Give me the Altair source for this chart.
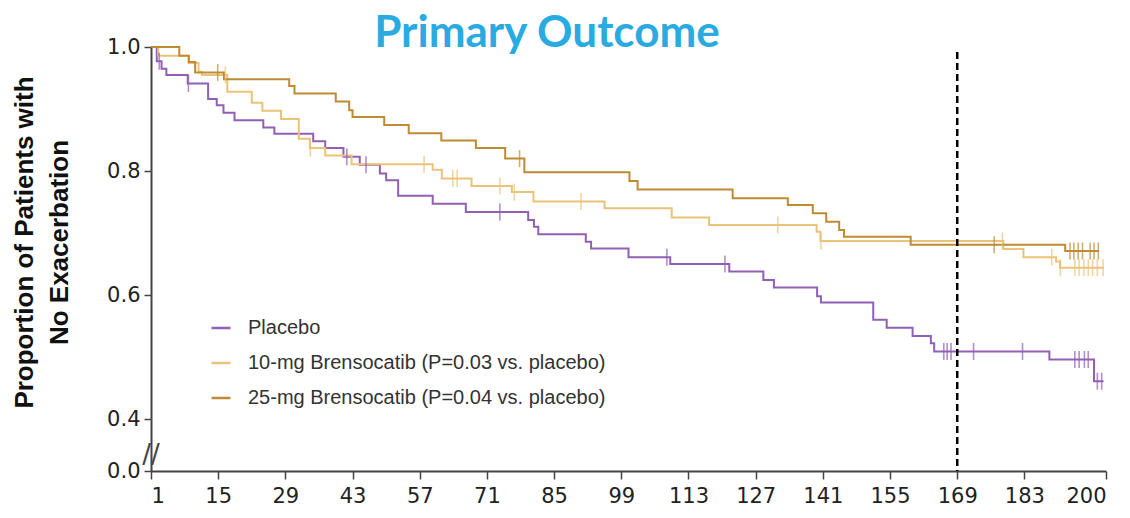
import altair as alt
import pandas as pd

# ---------------- data ----------------
SERIES = [
    "Placebo",
    "10-mg Brensocatib (P=0.03 vs. placebo)",
    "25-mg Brensocatib (P=0.04 vs. placebo)",
]
COLORS = ["#9160B4", "#EBC27A", "#BE8B34"]
TITLE = "Primary Outcome"

placebo_days = [1, 2.2, 3.2, 4.2, 8.65, 12.9, 14.7, 16.1, 18.4, 24.4, 26.7, 34.8, 37.3,
                41.1, 44.5, 48.7, 50.0, 52.5, 59.7, 66.6, 79.6, 80.8, 81.7, 91.6, 92.7,
                100.5, 109.2, 121.5, 128.6, 130.8, 139.8, 140.6, 151.5, 154.3, 159.7,
                163.5, 164.2, 188.2, 197.5, 199.5]
placebo_surv = [1.0, 0.977, 0.965, 0.955, 0.941, 0.916, 0.906, 0.894, 0.882, 0.870, 0.860,
                0.848, 0.837, 0.823, 0.810, 0.796, 0.785, 0.760, 0.747, 0.734, 0.721, 0.710,
                0.698, 0.686, 0.675, 0.661, 0.650, 0.638, 0.624, 0.612, 0.598, 0.588, 0.560,
                0.547, 0.534, 0.522, 0.509, 0.496, 0.461, 0.461]
placebo_censor = [2.7, 8.8, 41.8, 45.8, 73.7, 108.5, 120.6, 166.2, 166.9, 167.7, 172.4,
                  182.6, 193.5, 194.4, 195.5, 196.3, 198.2, 199.1]

mg10_days = [1, 2.5, 8.8, 10.9, 11.6, 16.9, 22.0, 24.2, 28.1, 31.8, 34.1, 37.3, 42.8,
             59.7, 61.6, 67.8, 76.2, 80.7, 95.5, 109.5, 117.3, 139.7, 140.5, 178.6,
             182.8, 189.6, 190.4, 199.5]
mg10_surv = [1.0, 0.986, 0.974, 0.960, 0.955, 0.928, 0.910, 0.897, 0.884, 0.852, 0.837,
             0.825, 0.811, 0.802, 0.788, 0.776, 0.766, 0.751, 0.740, 0.725, 0.713, 0.702,
             0.687, 0.674, 0.661, 0.654, 0.644, 0.644]
mg10_censor = [16.5, 34.2, 57.9, 63.9, 64.8, 73.7, 76.7, 90.6, 131.6, 140.6, 178.4, 188.7,
               190.5, 193.5, 194.4, 195.4, 196.3, 197.2, 198.2, 199.4]

mg25_days = [1, 6.9, 8.9, 10.2, 16.2, 29.8, 30.9, 39.5, 42.3, 43.0, 49.6, 54.7, 61.5,
             68.7, 74.8, 78.8, 100.7, 102.4, 122.2, 133.7, 138.9, 141.7, 144.4, 145.4,
             159.3, 191.5, 198.5]
mg25_surv = [1.0, 0.986, 0.976, 0.959, 0.948, 0.937, 0.925, 0.912, 0.898, 0.887, 0.874,
             0.861, 0.849, 0.837, 0.820, 0.798, 0.784, 0.770, 0.756, 0.745, 0.732, 0.718,
             0.705, 0.694, 0.681, 0.671, 0.671]
mg25_censor = [14.9, 77.8, 176.7, 192.5, 193.3, 194.2, 195.1, 196.7, 197.5, 198.4]

X_TICKS = [1, 15, 29, 43, 57, 71, 85, 99, 113, 127, 141, 155, 169, 183, 200]
Y_TICKS = [0.4, 0.6, 0.8, 1.0]
LANDMARK_DAY = 169
Y_BREAK = 0.4 - 0.2 * 52 / 124   # position drawn as "0.0" below the axis break

# ---------------- tables ----------------
def surv_at(days, surv, t):
    val = surv[0]
    for d, s in zip(days, surv):
        if d <= t:
            val = s
    return val

curves = [(placebo_days, placebo_surv, placebo_censor),
          (mg10_days, mg10_surv, mg10_censor),
          (mg25_days, mg25_surv, mg25_censor)]

line_rows, tick_rows = [], []
for name, (days, surv, cens) in zip(SERIES, curves):
    for d, s in zip(days, surv):
        line_rows.append({"series": name, "day": d, "surv": s})
    for c in cens:
        tick_rows.append({"series": name, "day": c, "surv": surv_at(days, surv, c)})
lines_df = pd.DataFrame(line_rows)
ticks_df = pd.DataFrame(tick_rows)

# ---------------- chart ----------------
x_scale = alt.Scale(domain=[1, 200], nice=False, zero=False)
y_scale = alt.Scale(domain=[Y_BREAK, 1.0], nice=False, zero=False)
color_scale = alt.Scale(domain=SERIES, range=COLORS)

x_axis = alt.Axis(values=X_TICKS, format="d", title=None, grid=False, tickSize=8,
                  labelPadding=6)
y_axis = alt.Axis(values=[Y_BREAK] + Y_TICKS, grid=False, tickSize=7, labelPadding=4,
                  labelExpr="datum.value < 0.35 ? '0.0' : format(datum.value, '.1f')",
                  title=["Proportion of Patients with", "No Exacerbation"],
                  titleFont="Liberation Sans", titleFontWeight="bold", titleFontSize=26,
                  titleColor="#111111", titleX=-127, titleY=195, titleAngle=-90,
                  titleAlign="center", titleBaseline="middle", titleLineHeight=35)

base_lines = alt.Chart(lines_df).mark_line(interpolate="step-after", strokeWidth=2).encode(
    x=alt.X("day:Q", scale=x_scale, axis=x_axis),
    y=alt.Y("surv:Q", scale=y_scale, axis=y_axis),
    color=alt.Color("series:N", scale=color_scale, sort=SERIES,
                    legend=alt.Legend(orient="none", legendX=59, legendY=270, title=None,
                                      symbolType="stroke", symbolSize=361,
                                      symbolStrokeWidth=2.5, labelFont="Liberation Sans",
                                      labelFontSize=20, labelColor="#333333",
                                      labelLimit=0, rowPadding=14, labelOffset=16,
                                      padding=0)),
)

ticks = alt.Chart(ticks_df).mark_tick(orient="vertical", size=17, thickness=1.6).encode(
    x=alt.X("day:Q", scale=x_scale),
    y=alt.Y("surv:Q", scale=y_scale),
    color=alt.Color("series:N", scale=color_scale, legend=None),
)

landmark = alt.Chart(pd.DataFrame({"day": [LANDMARK_DAY]})).mark_rule(
    color="black", strokeWidth=2.5, strokeDash=[7, 4]
).encode(x=alt.X("day:Q", scale=x_scale), y=alt.datum(0.992), y2=alt.datum(Y_BREAK))

brk = alt.Chart(pd.DataFrame({"t": ["//"]})).mark_text(
    font="DejaVu Sans", fontSize=26, color="#444444"
).encode(x=alt.datum(1), y=alt.datum(0.342), text="t:N")

title = alt.Chart(pd.DataFrame({"t": [TITLE]})).mark_text(
    font="Lato", fontSize=44, fontWeight="bold", color="#29ABE2",
    align="center", baseline="alphabetic"
).encode(x=alt.value(396), y=alt.value(0), text="t:N")

chart = alt.layer(base_lines, ticks, landmark, brk, title).properties(
    width=955, height=424,
    autosize=alt.AutoSizeParams(type="none"),
    padding={"left": 143, "top": 39, "right": 16, "bottom": 39},
).configure_view(stroke=None).configure_axis(
    domainColor="#444444", domainWidth=2, tickColor="#444444", tickWidth=1.5,
    labelFont="DejaVu Sans", labelFontSize=21, labelColor="#222222",
)

chart.save("out.html", embed_options={"renderer": "svg", "actions": False})
